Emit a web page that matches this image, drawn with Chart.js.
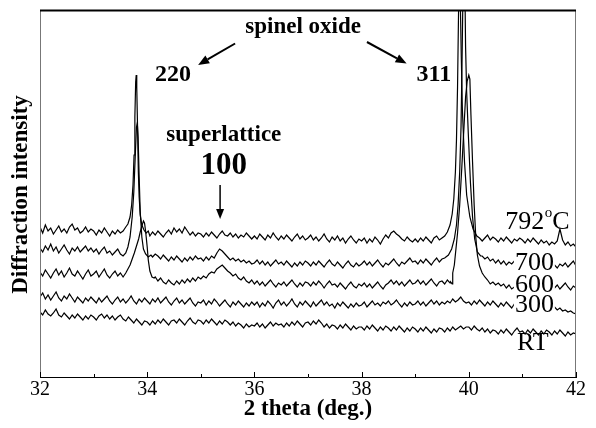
<!DOCTYPE html>
<html><head><meta charset="utf-8">
<script src="https://cdn.jsdelivr.net/npm/chart.js@4.4.1/dist/chart.umd.min.js"></script>
<style>html,body{margin:0;padding:0;background:#fff;}</style>
</head><body>
<canvas id="c" width="596" height="428"></canvas>
<script>
// ---- data (2 theta grid at 0.05 deg steps, intensities in arbitrary units, already offset) ----
const xTicks = [32, 34, 36, 38, 40, 42];
const xMinorTicks = [33, 35, 37, 39, 41];
const xGrid = Array.from({length: 201}, (_, i) => +(32 + i * 0.05).toFixed(2));

const base792 = [
150,144,152,146,149,143,147,151,145,148,144,150,153,147,149,144,146,150,145,148,
146,142,147,144,149,145,141,146,143,147,144,146,143,145,142,144,143,145,142,144,
143,141,145,142,146,143,140,144,147,143,149,145,148,144,150,146,142,145,141,144,
143,140,144,141,145,142,139,143,146,142,141,144,140,143,139,142,140,144,141,138,
141,138,143,140,137,142,139,144,140,137,141,138,142,139,136,140,143,138,141,137,
139,142,137,140,136,139,143,138,135,140,137,141,136,139,134,138,141,137,134,138,
136,139,134,138,135,140,137,133,138,142,139,144,146,143,141,138,136,140,137,135,
138,135,139,136,140,137,134,139,141,137,139,136,140,138,141,139,137,140,138,141,
139,137,140,138,141,136,139,142,137,140,138,135,139,136,140,137,134,138,136,139,
137,134,138,135,139,136,133,137,134,136,132,135,133,136,148,137,132,135,131,133,
130];
const peaks792 = [
 [[33.55,146],[33.60,150],[33.64,153],[33.68,160],[33.71,172],[33.735,192],[33.755,222],[33.77,260],[33.785,295],[33.795,302],[33.805,290],[33.82,250],[33.835,205],[33.85,180],[33.87,162],[33.90,152],[33.94,147],[33.98,144],[34.02,146]],
 [[39.55,141],[39.60,145],[39.65,152],[39.69,163],[39.72,178],[39.75,205],[39.77,237],[39.79,290],[39.81,370],[39.825,470],[39.84,380],[39.86,320],[39.88,268],[39.92,215],[39.96,182],[40.02,160],[40.08,148],[40.15,141],[40.20,139]]
];

const base700 = [
129,125,131,127,133,126,130,124,128,132,127,123,129,126,130,125,128,131,126,129,
125,128,123,127,130,124,126,122,125,128,123,121,124,122,125,121,124,122,120,123,
121,124,120,123,121,118,122,119,116,120,117,121,118,115,119,116,120,117,121,118,
119,116,120,117,121,119,124,128,126,123,120,117,119,116,118,115,117,114,116,113,
114,117,113,116,112,115,111,114,117,113,115,112,116,113,110,114,111,115,112,116,
114,111,115,112,116,113,110,114,117,113,111,115,112,109,113,116,112,110,114,111,
113,116,112,115,111,114,117,113,110,114,112,115,118,114,111,115,113,116,119,115,
116,113,117,114,118,115,112,116,119,115,118,116,119,117,120,118,121,119,122,120,
121,119,122,120,124,121,118,120,116,118,114,117,113,116,112,115,113,116,112,115,
113,110,114,111,115,112,109,113,110,114,111,108,112,109,113,111,114,110,113,116,
111];
const peaks700 = [
 [[33.55,121],[33.60,124],[33.64,130],[33.68,140],[33.72,160],[33.75,185],[33.78,225],[33.80,250],[33.815,254],[33.83,240],[33.85,200],[33.87,165],[33.90,140],[33.93,128],[33.97,123],[34.02,120],[34.07,122]],
 [[39.55,119],[39.62,122],[39.68,128],[39.73,138],[39.77,152],[39.80,172],[39.83,205],[39.855,250],[39.875,320],[39.895,400],[39.91,470],[39.925,400],[39.94,330],[39.96,285],[39.99,244],[40.03,195],[40.07,160],[40.11,138],[40.16,125],[40.22,121]]
];

const base600 = [
105,101,107,103,99,104,108,102,106,100,104,109,103,101,106,102,98,103,107,101,
103,106,100,104,108,102,99,103,106,101,104,100,105,102,98,103,101,105,102,100,
103,100,97,100,96,99,95,93,97,94,92,96,93,97,94,98,95,99,96,100,
98,101,99,103,105,104,108,110,112,109,106,104,101,103,99,97,100,96,94,97,
93,96,92,95,91,94,97,93,90,94,92,95,91,94,97,93,90,94,91,95,
94,91,95,92,96,93,89,93,96,92,93,90,94,91,88,92,95,91,89,93,
91,94,90,93,89,92,95,91,88,92,94,97,93,96,92,95,91,94,97,93,
94,97,93,96,92,95,98,94,91,95,96,93,97,94,96,93,95,97,99,101,
103,101,99,97,98,96,94,97,93,95,92,94,91,93,89,92,88,90,87,89,
88,91,87,90,86,89,92,88,91,87,90,93,89,92,88,91,94,90,87,91,
89];
const peaks600 = [
 [[33.60,104],[33.64,108],[33.68,112],[33.72,118],[33.76,124],[33.80,131],[33.84,138],[33.87,145],[33.90,151],[33.93,156],[33.95,154],[33.97,146],[34.00,130],[34.02,117],[34.05,106],[34.09,100],[34.13,99]],
 [[39.66,95],[39.69,93],[39.70,104],[39.73,112],[39.76,128],[39.79,144],[39.83,172],[39.87,210],[39.91,250],[39.94,280],[39.97,296],[40.00,302],[40.02,298],[40.04,262],[40.07,215],[40.10,172],[40.13,140],[40.16,122],[40.20,111],[40.25,104],[40.30,100],[40.35,97]]
];

const base300 = [
80,84,78,82,77,81,85,79,76,81,78,83,79,75,80,77,74,79,76,80,
77,74,79,75,78,81,76,73,77,80,75,78,74,77,81,76,73,78,75,79,
76,73,78,75,79,74,77,80,75,72,76,79,74,77,73,76,79,74,71,75,
74,77,72,76,73,78,75,71,74,77,73,70,75,72,76,73,70,74,71,75,
72,75,70,74,71,76,73,69,74,77,72,75,71,74,78,73,70,75,72,76,
73,70,75,71,74,77,72,75,71,73,69,74,71,75,72,69,73,70,74,71,
72,75,70,73,76,72,74,71,75,73,76,72,74,77,73,70,74,71,75,72,
73,76,72,75,71,74,77,73,76,72,75,73,76,74,78,75,77,80,76,74,
75,72,76,73,77,74,71,75,72,76,73,70,74,71,75,72,69,73,70,72,
71,68,72,69,73,70,67,71,68,72,69,66,70,67,69,66,67,65,66,64,
63];

const baseRT = [
65,62,67,63,61,64,68,62,60,64,61,58,62,59,63,60,57,61,58,62,
60,57,61,63,59,62,58,61,57,60,62,58,56,60,57,54,58,55,52,56,
55,52,56,53,57,54,58,55,52,56,57,54,58,55,52,56,59,55,53,57,
56,53,57,54,58,55,52,56,53,57,55,52,55,51,54,52,49,53,50,52,
51,54,50,53,49,52,55,51,54,52,53,50,54,51,55,52,56,53,50,54,
55,52,56,53,57,54,50,53,49,52,51,48,52,49,53,50,47,51,48,50,
50,47,51,48,52,49,46,50,47,51,49,46,50,47,51,48,45,49,46,50,
48,45,49,46,50,47,44,48,45,49,48,45,49,46,50,47,49,51,48,50,
50,47,51,48,46,49,45,48,44,47,46,43,47,44,48,45,42,46,49,45,
46,43,47,44,48,45,42,46,43,47,45,42,46,43,47,44,41,45,42,44,
43];

const seriesNames = ['792°C', '700', '600', '300', 'RT'];

function buildSeries(base, peaks) {
  const ranges = peaks.map(p => [p[0][0], p[p.length - 1][0]]);
  const pts = [];
  xGrid.forEach((x, i) => {
    if (!ranges.some(r => x >= r[0] && x <= r[1])) pts.push({x: x, y: base[i]});
  });
  peaks.forEach(p => p.forEach(([x, y]) => pts.push({x: x, y: y})));
  pts.sort((a, b) => a.x - b.x);
  return pts;
}

const seriesData = [
  buildSeries(base792, peaks792),
  buildSeries(base700, peaks700),
  buildSeries(base600, peaks600),
  buildSeries(base300, []),
  buildSeries(baseRT, [])
];

const SERIF = '"Liberation Serif", "Times New Roman", serif';

// annotation anchors in data coordinates
const tempLabels = [
  {t: '700', x: 40.86, y: 114.5, box: true},
  {t: '600', x: 40.86, y: 93, box: true},
  {t: '300', x: 40.86, y: 73, box: true},
  {t: 'RT', x: 40.90, y: 35, box: false}
];

const decor = {
  id: 'decor',
  afterDatasetsDraw(chart) {
    const {ctx, chartArea: a, scales: {x, y}} = chart;
    const X = v => x.getPixelForValue(v), Y = v => y.getPixelForValue(v);
    ctx.save();
    // frame
    ctx.strokeStyle = '#777'; ctx.lineWidth = 1;
    ctx.beginPath(); ctx.moveTo(a.left + 0.5, a.top); ctx.lineTo(a.left + 0.5, a.bottom); ctx.stroke();
    ctx.beginPath(); ctx.moveTo(a.right - 0.5, a.top); ctx.lineTo(a.right - 0.5, a.bottom); ctx.stroke();
    ctx.strokeStyle = '#000'; ctx.lineWidth = 2;
    ctx.beginPath(); ctx.moveTo(a.left, a.top + 0.5); ctx.lineTo(a.right, a.top + 0.5); ctx.stroke();
    // inner ticks
    ctx.lineWidth = 1; ctx.strokeStyle = '#000';
    xTicks.forEach(v => { const px = Math.round(X(v)) + 0.5; ctx.beginPath(); ctx.moveTo(px, a.bottom); ctx.lineTo(px, a.bottom - 5); ctx.stroke(); });
    xMinorTicks.forEach(v => { const px = Math.round(X(v)) + 0.5; ctx.beginPath(); ctx.moveTo(px, a.bottom); ctx.lineTo(px, a.bottom - 3); ctx.stroke(); });

    ctx.fillStyle = '#000';
    ctx.textAlign = 'center'; ctx.textBaseline = 'middle';
    // y title
    ctx.save();
    ctx.translate(21.5, 194.5); ctx.rotate(-Math.PI / 2);
    ctx.font = 'bold 23px ' + SERIF;
    ctx.fillText('Diffraction intensity', 0, 0);
    ctx.restore();

    // bold annotations
    ctx.font = 'bold 23px ' + SERIF;
    ctx.fillText('spinel oxide', X(36.91), Y(350));
    ctx.fillText('superlattice', X(35.43), Y(241.5));
    ctx.font = 'bold 24px ' + SERIF;
    ctx.fillText('220', X(34.48), Y(302));
    ctx.fillText('311', X(39.35), Y(302));
    ctx.font = 'bold 31px ' + SERIF;
    ctx.fillText('100', X(35.43), Y(211));

    // arrows
    function arrow(x1, y1, x2, y2, head, hw, w) {
      const ang = Math.atan2(y2 - y1, x2 - x1);
      const bx = x2 - head * Math.cos(ang), by = y2 - head * Math.sin(ang);
      ctx.lineWidth = w;
      ctx.beginPath(); ctx.moveTo(x1, y1); ctx.lineTo(bx, by); ctx.stroke();
      ctx.beginPath(); ctx.moveTo(x2, y2);
      ctx.lineTo(bx + hw * Math.sin(ang), by - hw * Math.cos(ang));
      ctx.lineTo(bx - hw * Math.sin(ang), by + hw * Math.cos(ang));
      ctx.closePath(); ctx.fill();
    }
    arrow(X(35.64), Y(333.5), X(34.95), Y(312), 11, 4.5, 2);
    arrow(X(38.10), Y(335), X(38.84), Y(313.4), 11, 4.5, 2);
    arrow(X(35.36), Y(192), X(35.36), Y(158), 10, 4, 1.5);

    // temperature labels
    ctx.textAlign = 'left';
    ctx.font = '26px ' + SERIF;
    tempLabels.forEach(l => {
      const px = X(l.x), py = Y(l.y);
      const w = ctx.measureText(l.t).width;
      if (l.box) { ctx.fillStyle = '#fff'; ctx.fillRect(px - 1, py - 8, w + 2, 17); }
      ctx.fillStyle = '#000';
      ctx.fillText(l.t, px, py + 1);
    });
    // 792 °C label with superscript o
    let px = X(40.68); const py = Y(156);
    ctx.fillText('792', px, py + 1);
    px += ctx.measureText('792').width;
    ctx.font = '15px ' + SERIF;
    ctx.fillText('o', px + 0.5, py - 8);
    px += ctx.measureText('o').width + 0.5;
    ctx.font = '26px ' + SERIF;
    ctx.fillText('C', px, py + 1);
    ctx.restore();
  }
};

new Chart(document.getElementById('c'), {
  type: 'line',
  data: {
    datasets: seriesData.map((d, i) => ({
      label: seriesNames[i], data: d, borderColor: '#000', borderWidth: 1.2,
      pointRadius: 0, tension: 0, fill: false
    }))
  },
  options: {
    responsive: false, animation: false, devicePixelRatio: 1,
    layout: {padding: {left: 40, right: 20, top: 10, bottom: 0}},
    plugins: {legend: {display: false}, tooltip: {enabled: false}},
    scales: {
      x: {
        type: 'linear', min: 32, max: 42,
        afterBuildTicks: s => { s.ticks = xTicks.map(v => ({value: v})); },
        afterFit: s => { s.height = 51; },
        grid: {display: false, drawTicks: false},
        border: {display: true, color: '#000', width: 1},
        ticks: {color: '#000', padding: 1, maxRotation: 0, autoSkip: false, font: {family: SERIF, size: 20}},
        title: {display: true, text: '2 theta (deg.)', color: '#000', padding: {top: 0, bottom: 5}, font: {family: SERIF, size: 23, weight: 'bold'}}
      },
      y: {display: false, min: 0, max: 367}
    }
  },
  plugins: [decor]
});
</script>
</body></html>
